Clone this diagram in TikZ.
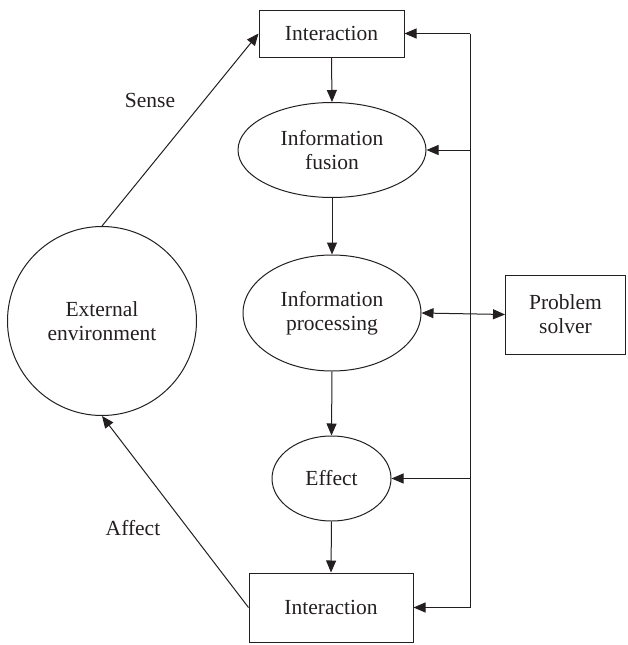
\documentclass[tikz,border=0pt]{standalone}
\usepackage{fontspec}
\setmainfont{Liberation Serif}
\usetikzlibrary{arrows.meta,shapes.geometric}
\definecolor{ink}{HTML}{231F20}
\tikzset{
  every node/.style={text=ink, font=\fontsize{21.5}{24}\selectfont, align=center, inner sep=0pt},
  boxnode/.style={draw=ink, line width=1pt, rectangle},
  ellnode/.style={draw=ink, line width=1pt, ellipse},
  circnode/.style={draw=ink, line width=1pt, circle},
  conn/.style={draw=ink, line width=1pt},
  arr/.style={conn, -{Triangle[length=12pt,width=10pt]}},
  darr/.style={conn, {Triangle[length=12pt,width=10pt]}-{Triangle[length=12pt,width=10pt]}},
  lbl/.style={text=ink}
}
\begin{document}
\begin{tikzpicture}[x=1pt,y=-1pt]
\useasboundingbox (0,0) rectangle (627,645);
% nodes
\node[boxnode, minimum width=145, minimum height=47] (top) at (331.5,33.5) {Interaction};
\node[ellnode, minimum width=188, minimum height=95] (fusion) at (332,150) {Information\\fusion};
\node[ellnode, minimum width=178, minimum height=116] (proc) at (332,313) {Information\\processing};
\node[ellnode, minimum width=119, minimum height=85] (effect) at (331.5,478.5) {Effect};
\node[boxnode, minimum width=164, minimum height=69] (bot) at (331,607.5) {Interaction};
\node[boxnode, minimum width=120, minimum height=79] (solver) at (565.5,314.5) {Problem\\solver};
\node[circnode, minimum size=189] (env) at (102,321) {External\\environment};
\node[lbl] (sense) at (150,100) {Sense};
\node[lbl] (affect) at (133,528) {Affect};
% bus line
\coordinate (bustop) at (470,33.5);
\coordinate (busbot) at (470,607.5);
\draw[conn] (bustop) -- (busbot);
% vertical flow
\draw[arr] (top.south) -- (fusion.north);
\draw[arr] (fusion.south) -- (proc.north);
\draw[arr] (proc.south) -- (effect.north);
\draw[arr] (effect.south) -- (bot.north);
% bus to nodes
\draw[arr] (bustop) -- (top.east);
\draw[arr] (bustop |- fusion.east) -- (fusion.east);
\draw[darr] (proc.east) -- (solver.west);
\draw[arr] (bustop |- effect.east) -- (effect.east);
\draw[arr] (busbot) -- (bot.east);
% environment
\draw[arr] (env.north) -- (top.west);
\draw[arr] (bot.west) -- (env.south);
\end{tikzpicture}
\end{document}
